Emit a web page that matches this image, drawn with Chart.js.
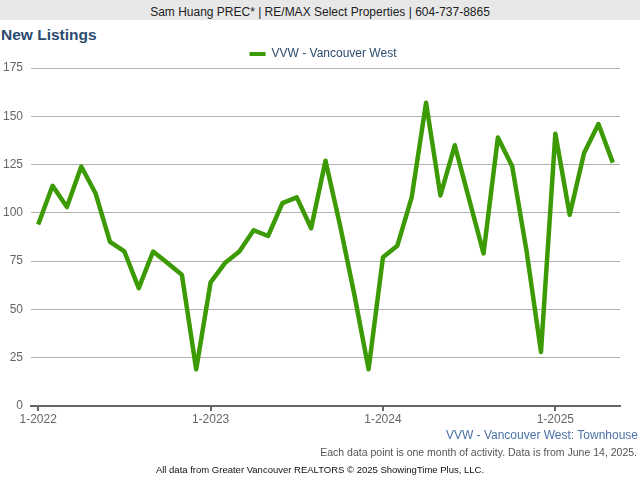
<!DOCTYPE html>
<html>
<head>
<meta charset="utf-8">
<script src="https://cdn.jsdelivr.net/npm/chart.js@4"></script>
<style>
  body { margin: 0; width: 640px; height: 480px; position: relative; background: #fff; font-family: "Liberation Sans", Arial, sans-serif; overflow: hidden; }
  #header { position: absolute; left: 0; top: 0; width: 640px; height: 20px; background: #e8e8e8; color: #222; font-size: 12px; line-height: 24px; text-align: center; }
  #title { position: absolute; left: 1px; top: 26px; color: #2b4a6f; font-size: 15.5px; font-weight: bold; }
  #wrap { position: absolute; left: 0; top: 0; width: 640px; height: 480px; }
  #area { position: absolute; right: 2px; top: 428px; color: #4a72a8; font-size: 12px; }
  #note { position: absolute; right: 3px; top: 446px; color: #555; font-size: 10.5px; }
  #credit { position: absolute; left: 0; width: 640px; top: 464px; text-align: center; color: #111; font-size: 9.5px; }
</style>
</head>
<body>
<div id="header">Sam Huang PREC* | RE/MAX Select Properties | 604-737-8865</div>
<div id="title">New Listings</div>
<div id="wrap"><canvas id="myChart" width="640" height="480"></canvas></div>
<div id="area">VVW - Vancouver West: Townhouse</div>
<div id="note">Each data point is one month of activity. Data is from June 14, 2025.</div>
<div id="credit">All data from Greater Vancouver REALTORS © 2025 ShowingTime Plus, LLC.</div>
<script>
// months Jan 2022 .. May 2025
const months = [
  '1-2022', '2-2022', '3-2022', '4-2022', '5-2022', '6-2022', '7-2022', '8-2022', '9-2022', '10-2022', '11-2022', '12-2022',
  '1-2023', '2-2023', '3-2023', '4-2023', '5-2023', '6-2023', '7-2023', '8-2023', '9-2023', '10-2023', '11-2023', '12-2023',
  '1-2024', '2-2024', '3-2024', '4-2024', '5-2024', '6-2024', '7-2024', '8-2024', '9-2024', '10-2024', '11-2024', '12-2024',
  '1-2025', '2-2025', '3-2025', '4-2025', '5-2025',
];
const newListings = [
  94, 114, 103, 124, 110, 85, 80, 61, 80, 74, 68, 19,
  64, 74, 80, 91, 88, 105, 108, 92, 127, 94, 58, 19,
  77, 83, 108, 157, 109, 135, 107, 79, 139, 124, 80, 28,
  141, 99, 131, 146, 126,
];
const yTicks = [0, 25, 50, 75, 100, 125, 150, 175];
const seriesName = 'VVW - Vancouver West';

// nudge the legend so it sits over the middle of the plot like the original
const legendShift = {
  id: 'legendShift',
  afterLayout(chart) {
    chart.legend.left += 13;
    chart.legend.right += 13;
    chart.legend.top += 2;
    chart.legend.bottom += 2;
  },
};

const ctx = document.getElementById('myChart').getContext('2d');
const chart = new Chart(ctx, {
  type: 'line',
  data: {
    labels: months,
    datasets: [{
      label: seriesName,
      data: newListings,
      borderColor: '#3c9a04',
      backgroundColor: '#3c9a04',
      borderWidth: 4.5,
      borderJoinStyle: 'round',
      pointRadius: 0,
      tension: 0,
    }],
  },
  plugins: [legendShift],
  options: {
    responsive: false,
    animation: false,
    layout: { padding: { top: 38, right: 20, bottom: 50, left: 0 } },
    plugins: {
      tooltip: { enabled: false },
      legend: {
        labels: {
          boxWidth: 16,
          boxHeight: 4,
          padding: 8,
          color: '#2b4a6f',
          font: { family: '"Liberation Sans", Arial', size: 12 },
          generateLabels: (c) => Chart.defaults.plugins.legend.labels.generateLabels(c)
            .map(item => Object.assign(item, { lineWidth: 0 })),
        },
      },
    },
    scales: {
      x: {
        offset: true,
        grid: { offset: false, drawOnChartArea: false, drawTicks: true, tickLength: 5, color: '#666', lineWidth: 2 },
        border: { color: '#666', width: 2 },
        ticks: {
          autoSkip: false,
          maxRotation: 0,
          padding: 1,
          color: '#666',
          font: { family: '"Liberation Sans", Arial', size: 12 },
          callback: function (value, index) {
            const lbl = months[index];
            return lbl.startsWith('1-') ? lbl : null;
          },
        },
        afterFit: (scale) => { scale.height = 24; },
      },
      y: {
        min: 0,
        max: 175,
        afterBuildTicks: (scale) => { scale.ticks = yTicks.map(v => ({ value: v })); },
        grid: { color: '#b0b0b0', lineWidth: 1, drawTicks: false },
        border: { display: false },
        ticks: {
          padding: 8,
          color: '#666',
          font: { family: '"Liberation Sans", Arial', size: 12 },
        },
        afterFit: (scale) => { scale.width = 31; },
      },
    },
  },
});
</script>
</body>
</html>
